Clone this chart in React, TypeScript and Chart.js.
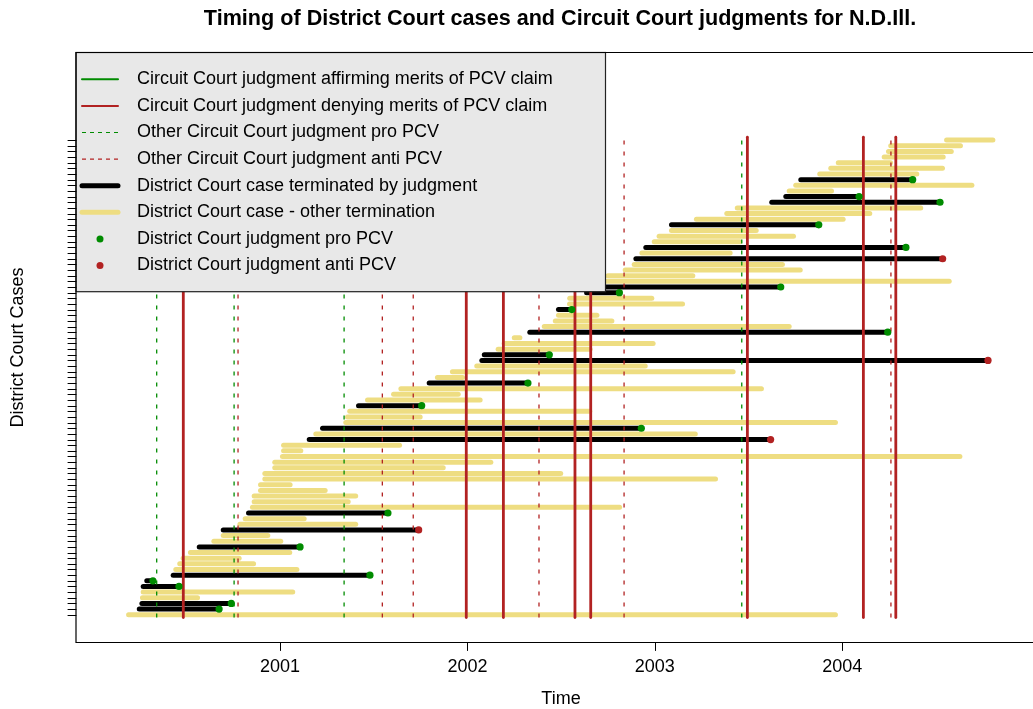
import React, { useEffect, useRef } from 'react';
import { Chart, registerables } from 'chart.js';

Chart.register(...registerables);

// ---- data ----
// District Court cases, row 1 (bottom) .. row 85 (top): start / end in decimal years
const caseStart = [
  2000.192, 2000.249, 2000.263, 2000.266, 2000.270, 2000.270, 2000.289, 2000.430, 2000.444, 2000.465,
  2000.483, 2000.522, 2000.569, 2000.647, 2000.697, 2000.697, 2000.786, 2000.814, 2000.832, 2000.853,
  2000.862, 2000.862, 2000.896, 2000.896, 2000.919, 2000.919, 2000.972, 2000.972, 2001.013, 2001.019,
  2001.019, 2001.156, 2001.191, 2001.227, 2001.351, 2001.360, 2001.372, 2001.419, 2001.467, 2001.606,
  2001.645, 2001.796, 2001.840, 2001.920, 2002.050, 2002.077, 2002.090, 2002.164, 2002.196, 2002.250,
  2002.333, 2002.410, 2002.469, 2002.486, 2002.486, 2002.545, 2002.546, 2002.636, 2002.665, 2002.708,
  2002.750, 2002.842, 2002.890, 2002.899, 2002.931, 2002.952, 2002.997, 2003.023, 2003.089, 2003.089,
  2003.222, 2003.384, 2003.440, 2003.624, 2003.699, 2003.717, 2003.752, 2003.779, 2003.880, 2003.939,
  2003.979, 2004.224, 2004.247, 2004.259, 2004.557,
];
const caseEnd = [
  2003.964, 2000.675, 2000.740, 2000.560, 2001.068, 2000.461, 2000.322, 2001.480, 2001.090, 2000.859,
  2000.782, 2001.052, 2001.107, 2001.004, 2000.935, 2001.740, 2001.404, 2001.129, 2001.576, 2002.812,
  2001.364, 2001.404, 2001.241, 2001.054, 2003.324, 2002.498, 2001.871, 2002.125, 2004.628, 2001.111,
  2001.638, 2003.618, 2003.216, 2002.928, 2003.964, 2001.748, 2002.653, 2001.756, 2002.068, 2001.951,
  2003.569, 2002.323, 2001.974, 2003.418, 2002.949, 2004.778, 2002.437, 2002.655, 2002.991, 2002.280,
  2004.243, 2003.717, 2002.771, 2002.691, 2002.557, 2003.148, 2002.984, 2002.811, 2003.672, 2004.571,
  2003.203, 2003.776, 2003.681, 2004.536, 2003.402, 2004.340, 2003.454, 2003.740, 2003.541, 2003.875,
  2004.005, 2004.147, 2004.419, 2004.522, 2004.090, 2003.943, 2004.692, 2004.376, 2004.398, 2004.535,
  2004.258, 2004.539, 2004.582, 2004.631, 2004.804,
];
// J = terminated by judgment, O = other termination
const caseKind = [
  'O', 'J', 'J', 'O', 'O', 'J', 'J', 'J', 'O', 'O',
  'O', 'O', 'J', 'O', 'O', 'J', 'O', 'O', 'J', 'O',
  'O', 'O', 'O', 'O', 'O', 'O', 'O', 'O', 'O', 'O',
  'O', 'J', 'O', 'J', 'O', 'O', 'O', 'J', 'O', 'O',
  'O', 'J', 'O', 'O', 'O', 'J', 'J', 'O', 'O', 'O',
  'J', 'O', 'O', 'O', 'J', 'O', 'O', 'J', 'J', 'O',
  'O', 'O', 'O', 'J', 'O', 'J', 'O', 'O', 'O', 'J',
  'O', 'O', 'O', 'J', 'J', 'O', 'O', 'J', 'O', 'O',
  'O', 'O', 'O', 'O', 'O',
];
// judgment outcome for judgment rows
const caseOutcome = [
  '', 'pro', 'pro', '', '', 'pro', 'pro', 'pro', '', '',
  '', '', 'pro', '', '', 'anti', '', '', 'pro', '',
  '', '', '', '', '', '', '', '', '', '',
  '', 'anti', '', 'pro', '', '', '', 'pro', '', '',
  '', 'pro', '', '', '', 'anti', 'pro', '', '', '',
  'pro', '', '', '', 'pro', '', '', 'pro', 'pro', '',
  '', '', '', 'anti', '', 'pro', '', '', '', 'pro',
  '', '', '', 'pro', 'pro', '', '', 'pro', '', '',
  '', '', '', '', '',
];

// Circuit Court judgments (decimal years)
const ccAffirm: number[] = [];
const ccDeny = [2000.484, 2001.994, 2002.192, 2002.574, 2002.658, 2003.494, 2004.113, 2004.286];
const ccOtherPro = [2000.342, 2000.755, 2001.342, 2003.464];
const ccOtherAnti = [2000.776, 2001.546, 2001.711, 2002.382, 2002.836, 2004.260];

const xTickValues = [2001, 2002, 2003, 2004];
const xTickLabels = ['2001', '2002', '2003', '2004'];

const titleText = 'Timing of District Court cases and Circuit Court judgments for N.D.Ill.';
const xAxisTitle = 'Time';
const yAxisTitle = 'District Court Cases';

const legendLabels = [
  'Circuit Court judgment affirming merits of PCV claim',
  'Circuit Court judgment denying merits of PCV claim',
  'Other Circuit Court judgment pro PCV',
  'Other Circuit Court judgment anti PCV',
  'District Court case terminated by judgment',
  'District Court case - other termination',
  'District Court judgment pro PCV',
  'District Court judgment anti PCV',
];

// ---- styles ----
const GREEN = '#008B00';
const RED = '#B22222';
const GOLD = '#EEDD82';
const BLACK = '#000000';
const FONT = '"Liberation Sans", Arial, Helvetica, sans-serif';

const X_MIN = 1999.9114;
const X_MAX = 2005.0181;
const Y_MIN = -3.92;
const Y_MAX = 100.5;

const legendStyles = [
  { kind: 'line', color: GREEN, width: 2, dash: [] as number[] },
  { kind: 'line', color: RED, width: 2, dash: [] as number[] },
  { kind: 'line', color: GREEN, width: 1.2, dash: [4, 4] },
  { kind: 'line', color: RED, width: 1.2, dash: [4, 4] },
  { kind: 'line', color: BLACK, width: 5, dash: [] as number[] },
  { kind: 'line', color: GOLD, width: 5, dash: [] as number[] },
  { kind: 'dot', color: GREEN, width: 0, dash: [] as number[] },
  { kind: 'dot', color: RED, width: 0, dash: [] as number[] },
];

const overlayPlugin = {
  id: 'overlay',
  afterDatasetsDraw(chart: any) {
    const ctx: CanvasRenderingContext2D = chart.ctx;
    const { left, top, right, bottom } = chart.chartArea;
    const xs = chart.scales.x;
    const ys = chart.scales.y;
    ctx.save();

    // legend box
    const lgL = left, lgT = top, lgR = 605.5, lgB = 291.7;
    ctx.fillStyle = '#E8E8E8';
    ctx.fillRect(lgL, lgT, lgR - lgL, lgB - lgT);
    ctx.strokeStyle = '#222';
    ctx.lineWidth = 1.2;
    ctx.strokeRect(lgL, lgT, lgR - lgL, lgB - lgT);
    ctx.font = `18px ${FONT}`;
    ctx.textBaseline = 'middle';
    ctx.textAlign = 'left';
    legendLabels.forEach((label, i) => {
      const y = 79.3 + i * 26.6;
      const st = legendStyles[i];
      if (st.kind === 'line') {
        ctx.beginPath();
        ctx.setLineDash(st.dash);
        ctx.lineCap = st.dash.length ? 'butt' : 'round';
        ctx.strokeStyle = st.color;
        ctx.lineWidth = st.width;
        ctx.moveTo(82, y);
        ctx.lineTo(118, y);
        ctx.stroke();
        ctx.setLineDash([]);
      } else {
        ctx.beginPath();
        ctx.fillStyle = st.color;
        ctx.arc(100, y, 3.5, 0, Math.PI * 2);
        ctx.fill();
      }
      ctx.fillStyle = '#000';
      ctx.fillText(label, 137, y);
    });

    // plot box
    ctx.strokeStyle = '#000';
    ctx.lineWidth = 1.2;
    ctx.beginPath();
    ctx.moveTo(right + 5, top);
    ctx.lineTo(left, top);
    ctx.lineTo(left, bottom);
    ctx.lineTo(right + 5, bottom);
    ctx.stroke();

    // y ticks (one per case row)
    ctx.lineWidth = 1;
    ctx.beginPath();
    for (let i = 1; i <= caseStart.length; i++) {
      const y = Math.round(ys.getPixelForValue(i)) + 0.5;
      ctx.moveTo(left, y);
      ctx.lineTo(left - 8, y);
    }
    ctx.stroke();

    // x ticks + labels
    ctx.beginPath();
    xTickValues.forEach((v) => {
      const x = Math.round(xs.getPixelForValue(v)) + 0.5;
      ctx.moveTo(x, bottom);
      ctx.lineTo(x, bottom + 8);
    });
    ctx.stroke();
    ctx.fillStyle = '#000';
    ctx.font = `18px ${FONT}`;
    ctx.textAlign = 'center';
    ctx.textBaseline = 'middle';
    xTickValues.forEach((v, i) => {
      ctx.fillText(xTickLabels[i], xs.getPixelForValue(v), 667);
    });

    // axis titles
    ctx.fillText(xAxisTitle, 561, 699);
    ctx.save();
    ctx.translate(18, 347.5);
    ctx.rotate(-Math.PI / 2);
    ctx.fillText(yAxisTitle, 0, 0);
    ctx.restore();

    // main title
    ctx.font = `bold 21.6px ${FONT}`;
    ctx.fillText(titleText, 560, 19);

    ctx.restore();
  },
};

export default function App() {
  const canvasRef = useRef<HTMLCanvasElement | null>(null);

  useEffect(() => {
    document.body.style.margin = '0';
    document.body.style.overflow = 'hidden';
    const canvas = canvasRef.current;
    if (!canvas) return;

    const datasets: any[] = [];

    // judgment dots (on top)
    const proPts: any[] = [];
    const antiPts: any[] = [];
    caseEnd.forEach((e, i) => {
      if (caseKind[i] !== 'J') return;
      if (caseOutcome[i] === 'pro') proPts.push({ x: e, y: i + 1 });
      if (caseOutcome[i] === 'anti') antiPts.push({ x: e, y: i + 1 });
    });
    datasets.push({
      type: 'scatter', data: proPts, order: 0, showLine: false,
      pointRadius: 3.6, pointBackgroundColor: GREEN, pointBorderWidth: 0, pointBorderColor: GREEN,
    });
    datasets.push({
      type: 'scatter', data: antiPts, order: 0, showLine: false,
      pointRadius: 3.6, pointBackgroundColor: RED, pointBorderWidth: 0, pointBorderColor: RED,
    });

    // circuit court vertical lines
    const yLo = 0.5;
    const yHi = caseStart.length + 0.5;
    const vline = (x: number, color: string, width: number, dash: number[]) => ({
      type: 'line', data: [{ x, y: yLo }, { x, y: yHi }], order: 1, showLine: true,
      borderColor: color, borderWidth: width, borderDash: dash, pointRadius: 0,
      borderCapStyle: dash.length ? 'butt' : 'round', fill: false, tension: 0,
    });
    ccAffirm.forEach((x) => datasets.push(vline(x, GREEN, 2.8, [])));
    ccDeny.forEach((x) => datasets.push(vline(x, RED, 2.8, [])));
    ccOtherPro.forEach((x) => datasets.push(vline(x, GREEN, 1.3, [4, 7])));
    ccOtherAnti.forEach((x) => datasets.push(vline(x, RED, 1.3, [4, 7])));

    // district court case bars
    caseStart.forEach((s, i) => {
      const isJ = caseKind[i] === 'J';
      datasets.push({
        type: 'line', data: [{ x: s, y: i + 1 }, { x: caseEnd[i], y: i + 1 }], order: 2,
        showLine: true, borderColor: isJ ? BLACK : GOLD, borderWidth: 5, pointRadius: 0,
        borderCapStyle: 'round', fill: false, tension: 0,
      });
    });

    const chart = new Chart(canvas, {
      type: 'scatter',
      data: { datasets },
      options: {
        responsive: false,
        animation: false,
        devicePixelRatio: 1,
        events: [],
        layout: { autoPadding: false, padding: { left: 76, top: 52.5, right: 0, bottom: 66.5 } },
        scales: {
          x: { type: 'linear', display: false, min: X_MIN, max: X_MAX },
          y: { type: 'linear', display: false, min: Y_MIN, max: Y_MAX },
        },
        plugins: {
          legend: { display: false },
          tooltip: { enabled: false },
          title: { display: false },
        },
      } as any,
      plugins: [overlayPlugin],
    });
    return () => chart.destroy();
  }, []);

  return (
    <div style={{ width: 1033, height: 709, position: 'relative', background: '#fff' }}>
      <canvas ref={canvasRef} width={1033} height={709} style={{ width: 1033, height: 709, display: 'block' }} />
    </div>
  );
}
